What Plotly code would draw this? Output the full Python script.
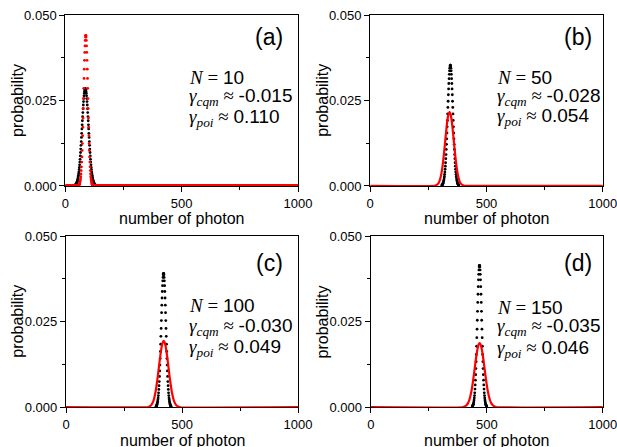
import plotly.graph_objects as go

# ---------------- data ----------------
panels = ["a", "b", "c", "d"]
N_values = ["10", "50", "100", "150"]
gamma_cqm = ["-0.015", "-0.028", "-0.030", "-0.035"]
gamma_poi = ["0.110", "0.054", "0.049", "0.046"]

# panel (a)
black_a_x = list(range(42, 130))
black_a_y = [0.0002, 0.0003, 0.0004, 0.0004, 0.0005, 0.0006, 0.0008, 0.0010, 0.0011, 0.0014,
             0.0016, 0.0019, 0.0023, 0.0027, 0.0031, 0.0036, 0.0041, 0.0048, 0.0054, 0.0062,
             0.0070, 0.0078, 0.0088, 0.0098, 0.0108, 0.0119, 0.0130, 0.0142, 0.0154, 0.0167,
             0.0179, 0.0191, 0.0203, 0.0215, 0.0226, 0.0237, 0.0247, 0.0256, 0.0264, 0.0271,
             0.0276, 0.0281, 0.0283, 0.0285,
             0.0285, 0.0283, 0.0281, 0.0276, 0.0271, 0.0264, 0.0256, 0.0247, 0.0237, 0.0226,
             0.0215, 0.0203, 0.0191, 0.0179, 0.0167, 0.0154, 0.0142, 0.0130, 0.0119, 0.0108,
             0.0098, 0.0088, 0.0078, 0.0070, 0.0062, 0.0054, 0.0048, 0.0041, 0.0036, 0.0031,
             0.0027, 0.0023, 0.0019, 0.0016, 0.0014, 0.0011, 0.0010, 0.0008, 0.0006, 0.0005,
             0.0004, 0.0004, 0.0003, 0.0002]
red_a_x = list(range(55, 119))
red_a_y = [0.0001, 0.0001, 0.0002, 0.0002, 0.0003, 0.0005, 0.0006, 0.0009, 0.0012, 0.0016,
           0.0021, 0.0027, 0.0035, 0.0045, 0.0056, 0.0070, 0.0085, 0.0104, 0.0124, 0.0147,
           0.0172, 0.0199, 0.0227, 0.0256, 0.0286, 0.0315, 0.0342, 0.0368, 0.0391, 0.0410,
           0.0426, 0.0436, 0.0441, 0.0441, 0.0436, 0.0426, 0.0410, 0.0391, 0.0368, 0.0342,
           0.0315, 0.0286, 0.0256, 0.0227, 0.0199, 0.0172, 0.0147, 0.0124, 0.0104, 0.0085,
           0.0070, 0.0056, 0.0045, 0.0035, 0.0027, 0.0021, 0.0016, 0.0012, 0.0009, 0.0006,
           0.0005, 0.0003, 0.0002, 0.0002]

# panel (b)
black_b_x = list(range(308, 382))
black_b_y = [0.0002, 0.0003, 0.0003, 0.0004, 0.0006, 0.0007, 0.0009, 0.0012, 0.0015, 0.0018,
             0.0023, 0.0028, 0.0034, 0.0041, 0.0049, 0.0058, 0.0068, 0.0080, 0.0092, 0.0107,
             0.0122, 0.0138, 0.0155, 0.0173, 0.0192, 0.0211, 0.0230, 0.0248, 0.0267, 0.0284,
             0.0300, 0.0314, 0.0327, 0.0337, 0.0345, 0.0351, 0.0354,
             0.0354, 0.0351, 0.0345, 0.0337, 0.0327, 0.0314, 0.0300, 0.0284, 0.0267, 0.0248,
             0.0230, 0.0211, 0.0192, 0.0173, 0.0155, 0.0138, 0.0122, 0.0107, 0.0092, 0.0080,
             0.0068, 0.0058, 0.0049, 0.0041, 0.0034, 0.0028, 0.0023, 0.0018, 0.0015, 0.0012,
             0.0009, 0.0007, 0.0006, 0.0004, 0.0003, 0.0003, 0.0002]
red_b_x = [0] + list(range(276, 417, 5)) + [1000]
red_b_y = [0.0, 0.0, 0.0001, 0.0003, 0.0006, 0.0011, 0.0021, 0.0036, 0.0058, 0.0087, 0.0121,
           0.0156, 0.0188, 0.0209, 0.0217, 0.0209, 0.0188, 0.0156, 0.0121, 0.0087, 0.0058,
           0.0036, 0.0021, 0.0011, 0.0006, 0.0003, 0.0001, 0.0, 0.0, 0.0, 0.0]

# panel (c)
black_c_x = list(range(388, 454))
black_c_y = [0.0002, 0.0003, 0.0004, 0.0006, 0.0008, 0.0010, 0.0013, 0.0017, 0.0022, 0.0027,
             0.0034, 0.0042, 0.0052, 0.0063, 0.0075, 0.0090, 0.0106, 0.0123, 0.0142, 0.0163,
             0.0184, 0.0207, 0.0230, 0.0253, 0.0276, 0.0298, 0.0319, 0.0338, 0.0355, 0.0369,
             0.0379, 0.0387, 0.0391,
             0.0391, 0.0387, 0.0379, 0.0369, 0.0355, 0.0338, 0.0319, 0.0298, 0.0276, 0.0253,
             0.0230, 0.0207, 0.0184, 0.0163, 0.0142, 0.0123, 0.0106, 0.0090, 0.0075, 0.0063,
             0.0052, 0.0042, 0.0034, 0.0027, 0.0022, 0.0017, 0.0013, 0.0010, 0.0008, 0.0006,
             0.0004, 0.0003, 0.0002]
red_c_x = [0] + list(range(351, 492, 5)) + [1000]
red_c_y = [0.0, 0.0, 0.0001, 0.0003, 0.0005, 0.0010, 0.0017, 0.0029, 0.0045, 0.0067, 0.0092,
           0.0121, 0.0148, 0.0172, 0.0188, 0.0194, 0.0188, 0.0172, 0.0148, 0.0121, 0.0092,
           0.0067, 0.0045, 0.0029, 0.0017, 0.0010, 0.0005, 0.0003, 0.0001, 0.0, 0.0]

# panel (d)
black_d_x = list(range(438, 500))
black_d_y = [0.0003, 0.0004, 0.0005, 0.0007, 0.0009, 0.0012, 0.0016, 0.0021, 0.0027, 0.0034,
             0.0042, 0.0053, 0.0065, 0.0079, 0.0095, 0.0113, 0.0133, 0.0154, 0.0178, 0.0203,
             0.0228, 0.0254, 0.0280, 0.0306, 0.0330, 0.0352, 0.0372, 0.0388, 0.0401, 0.0410,
             0.0414,
             0.0414, 0.0410, 0.0401, 0.0388, 0.0372, 0.0352, 0.0330, 0.0306, 0.0280, 0.0254,
             0.0228, 0.0203, 0.0178, 0.0154, 0.0133, 0.0113, 0.0095, 0.0079, 0.0065, 0.0053,
             0.0042, 0.0034, 0.0027, 0.0021, 0.0016, 0.0012, 0.0009, 0.0007, 0.0005, 0.0004,
             0.0003]
red_d_x = [0] + list(range(394, 545, 5)) + [1000]
red_d_y = [0.0, 0.0, 0.0001, 0.0002, 0.0004, 0.0007, 0.0012, 0.0020, 0.0032, 0.0048, 0.0069,
           0.0094, 0.0120, 0.0146, 0.0167, 0.0182, 0.0187, 0.0182, 0.0167, 0.0146, 0.0120,
           0.0094, 0.0069, 0.0048, 0.0032, 0.0020, 0.0012, 0.0007, 0.0004, 0.0002, 0.0001,
           0.0, 0.0]

x_ticks = [0, 500, 1000]
y_ticks = [0.0, 0.025, 0.050]

# ---------------- figure ----------------
fig = go.Figure()

doms_x = {"a": [0.106, 0.483], "b": [0.600, 0.977], "c": [0.107, 0.483], "d": [0.601, 0.977]}
doms_y = {"a": [0.584, 0.966], "b": [0.584, 0.966], "c": [0.089, 0.472], "d": [0.089, 0.472]}
axis_ids = {"a": "", "b": "2", "c": "3", "d": "4"}

# panel (a): red dots over full range (zero outside the peak)
red_a_lookup = dict(zip(red_a_x, red_a_y))
red_a_full_x = list(range(0, 1001))
red_a_full_y = [red_a_lookup.get(n, 0.0) for n in red_a_full_x]

fig.add_trace(go.Scatter(x=black_a_x, y=black_a_y, mode="markers",
                         marker=dict(color="black", size=2.8), xaxis="x", yaxis="y",
                         showlegend=False))
fig.add_trace(go.Scatter(x=red_a_full_x, y=red_a_full_y, mode="markers",
                         marker=dict(color="#ff0000", size=2.8), xaxis="x", yaxis="y",
                         showlegend=False))

for p, bx, by, rx, ry in [("b", black_b_x, black_b_y, red_b_x, red_b_y),
                          ("c", black_c_x, black_c_y, red_c_x, red_c_y),
                          ("d", black_d_x, black_d_y, red_d_x, red_d_y)]:
    i = axis_ids[p]
    fig.add_trace(go.Scatter(x=bx, y=by, mode="markers",
                             marker=dict(color="black", size=2.8),
                             xaxis="x" + i, yaxis="y" + i, showlegend=False))
    fig.add_trace(go.Scatter(x=rx, y=ry, mode="lines",
                             line=dict(color="#ff0000", width=2.2, shape="spline", smoothing=0.6),
                             xaxis="x" + i, yaxis="y" + i, showlegend=False))

axis_common = dict(showline=True, linecolor="black", linewidth=1.3, mirror=True,
                   ticks="outside", ticklen=5, tickwidth=1.2, tickcolor="black",
                   showgrid=False, zeroline=False, layer="below traces", automargin=False,
                   ticklabeloverflow="allow",
                   tickfont=dict(family="Liberation Sans, Arial", size=13, color="black"))

layout = {}
for p in panels:
    i = axis_ids[p]
    layout["xaxis" + i] = dict(axis_common, domain=doms_x[p], range=[0, 1000],
                               anchor="y" + i, tickvals=x_ticks,
                               ticktext=[str(v) for v in x_ticks],
                               minor=dict(dtick=250, ticklen=3, ticks="outside", tickcolor="black"))
    layout["yaxis" + i] = dict(axis_common, domain=doms_y[p], range=[0, 0.05],
                               anchor="x" + i, tickvals=y_ticks,
                               ticktext=["%.3f" % v for v in y_ticks],
                               minor=dict(dtick=0.0125, ticklen=3, ticks="outside", tickcolor="black"))
fig.update_layout(**layout)

serif = "font-family:Liberation Serif"
title_font = dict(family="Liberation Sans, Arial", size=16, color="black")
annotations = []
label_pos = {"a": (0.875, 0.871), "b": (0.893, 0.871), "c": (0.876, 0.844), "d": (0.893, 0.844)}
text_x = {"a": 0.524, "b": 0.536, "c": 0.52, "d": 0.534}
text_y = {"a": [0.637, 0.520, 0.397], "b": [0.637, 0.520, 0.403],
          "c": [0.597, 0.468, 0.345], "d": [0.585, 0.468, 0.339]}
for k, p in enumerate(panels):
    i = axis_ids[p]
    # axis titles
    annotations.append(dict(text="number of photon", x=0.5, y=0, xref="x%s domain" % i,
                            yref="y%s domain" % i, xanchor="center", yanchor="middle",
                            yshift=-33, showarrow=False, font=title_font))
    annotations.append(dict(text="probability", x=0, y=0.5, xref="x%s domain" % i,
                            yref="y%s domain" % i, xanchor="center", yanchor="middle",
                            xshift=-48, textangle=-90, showarrow=False, font=title_font))
    lx, ly = label_pos[p]
    annotations.append(dict(text="(%s)" % p, x=lx, y=ly, xref="x%s domain" % i,
                            yref="y%s domain" % i, xanchor="center", yanchor="middle",
                            showarrow=False,
                            font=dict(family="Liberation Sans, Arial", size=23, color="black")))
    lines = [
        "<span style='%s'><i>N</i> = </span>%s" % (serif, N_values[k]),
        "<span style='%s'><i>γ</i><sub><i>cqm</i></sub> ≈ </span>%s" % (serif, gamma_cqm[k]),
        "<span style='%s'><i>γ</i><sub><i>poi</i></sub> ≈ </span>%s" % (serif, gamma_poi[k]),
    ]
    for j, t in enumerate(lines):
        annotations.append(dict(text=t, x=text_x[p], y=text_y[p][j], xref="x%s domain" % i,
                                yref="y%s domain" % i, xanchor="left", yanchor="middle",
                                showarrow=False,
                                font=dict(family="Liberation Sans, Arial", size=19, color="black")))

fig.update_layout(annotations=annotations, width=617, height=447,
                  margin=dict(l=0, r=0, t=0, b=0),
                  paper_bgcolor="white", plot_bgcolor="white")

fig.write_html("out.html", config={"displayModeBar": False},
               post_script="document.body.style.margin='0';")
